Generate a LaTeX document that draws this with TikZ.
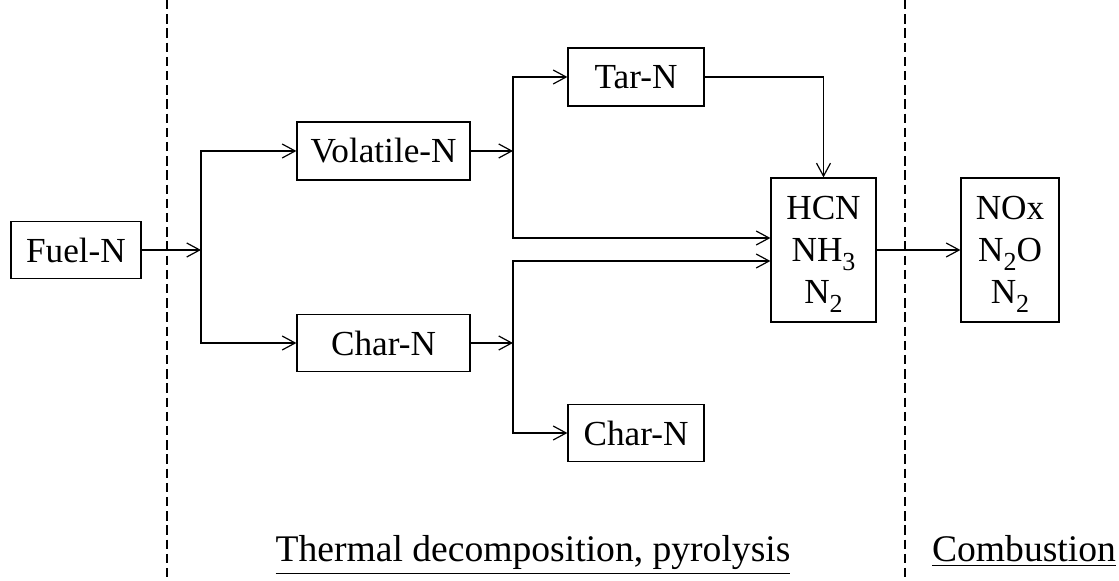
\documentclass[tikz,border=0pt]{standalone}
\usepackage{fontspec}
\setmainfont{Liberation Serif}
\usetikzlibrary{calc,arrows.meta}
\newcommand{\lowsub}[1]{\raisebox{-4.5pt}[0pt][0pt]{\fontsize{13}{13}\selectfont #1}}

\begin{document}
\begin{tikzpicture}[x=0.5pt, y=-0.5pt, >={Straight Barb[length=6.5pt,width=7pt]}, line width=0.6pt,
  box/.style={draw, inner sep=0pt, align=center, font=\fontsize{17.6}{21}\selectfont},
  lbl/.style={anchor=base, font=\fontsize{18.8}{22}\selectfont},
  sep/.style={dash pattern=on 4.7pt off 2.4pt}]
  \useasboundingbox (0,0) rectangle (1119,581);
  % phase borders
  \draw[sep] (167,0)--(167,581);
  \draw[sep] (905,0)--(905,581);
  % species
  \node[box, minimum width=65pt, minimum height=28.5pt] (fuel) at (76,250) {Fuel-N};
  \node[box, minimum width=86.5pt, minimum height=29pt] (vol) at (383.5,151) {Volatile-N};
  \node[box, minimum width=86.5pt, minimum height=28.5pt] (char1) at (383.5,343) {Char-N};
  \node[box, minimum width=68pt, minimum height=29pt] (tar) at (636,77) {Tar-N};
  \node[box, minimum width=68pt, minimum height=28.5pt] (char2) at (636,433) {Char-N};
  \node[box, minimum width=52.5pt, minimum height=72pt] (gas) at (823.5,250) {HCN\\NH\lowsub{3}\\N\lowsub{2}};
  \node[box, minimum width=49pt, minimum height=72pt] (prod) at (1010,250) {NOx\\N\lowsub{2}O\\N\lowsub{2}};
  % branch points
  \coordinate (s1) at (201,250);
  \coordinate (s2) at (513,151);
  \coordinate (s3) at (513,343);
  \coordinate (g1) at ($(gas.west)+(0,-12)$);
  \coordinate (g2) at ($(gas.west)+(0,11)$);
  \draw[->] (fuel)--(s1);
  \draw[->] (s1) |- (vol);
  \draw[->] (s1) |- (char1);
  \draw[->] (vol)--(s2);
  \draw[->] (s2) |- (tar);
  \draw[->] (s2) |- (g1);
  \draw[->] (char1)--(s3);
  \draw[->] (s3) |- (char2);
  \draw[->] (s3) |- (g2);
  \draw[->] (tar) -| (gas);
  \draw[->] (gas)--(prod);
  % phase names
  \node[lbl] (pyro) at (533,562) {\underline{Thermal decomposition, pyrolysis}};
  \node[lbl] (comb) at (1024,562) {\underline{Combustion}};
\end{tikzpicture}
\end{document}
